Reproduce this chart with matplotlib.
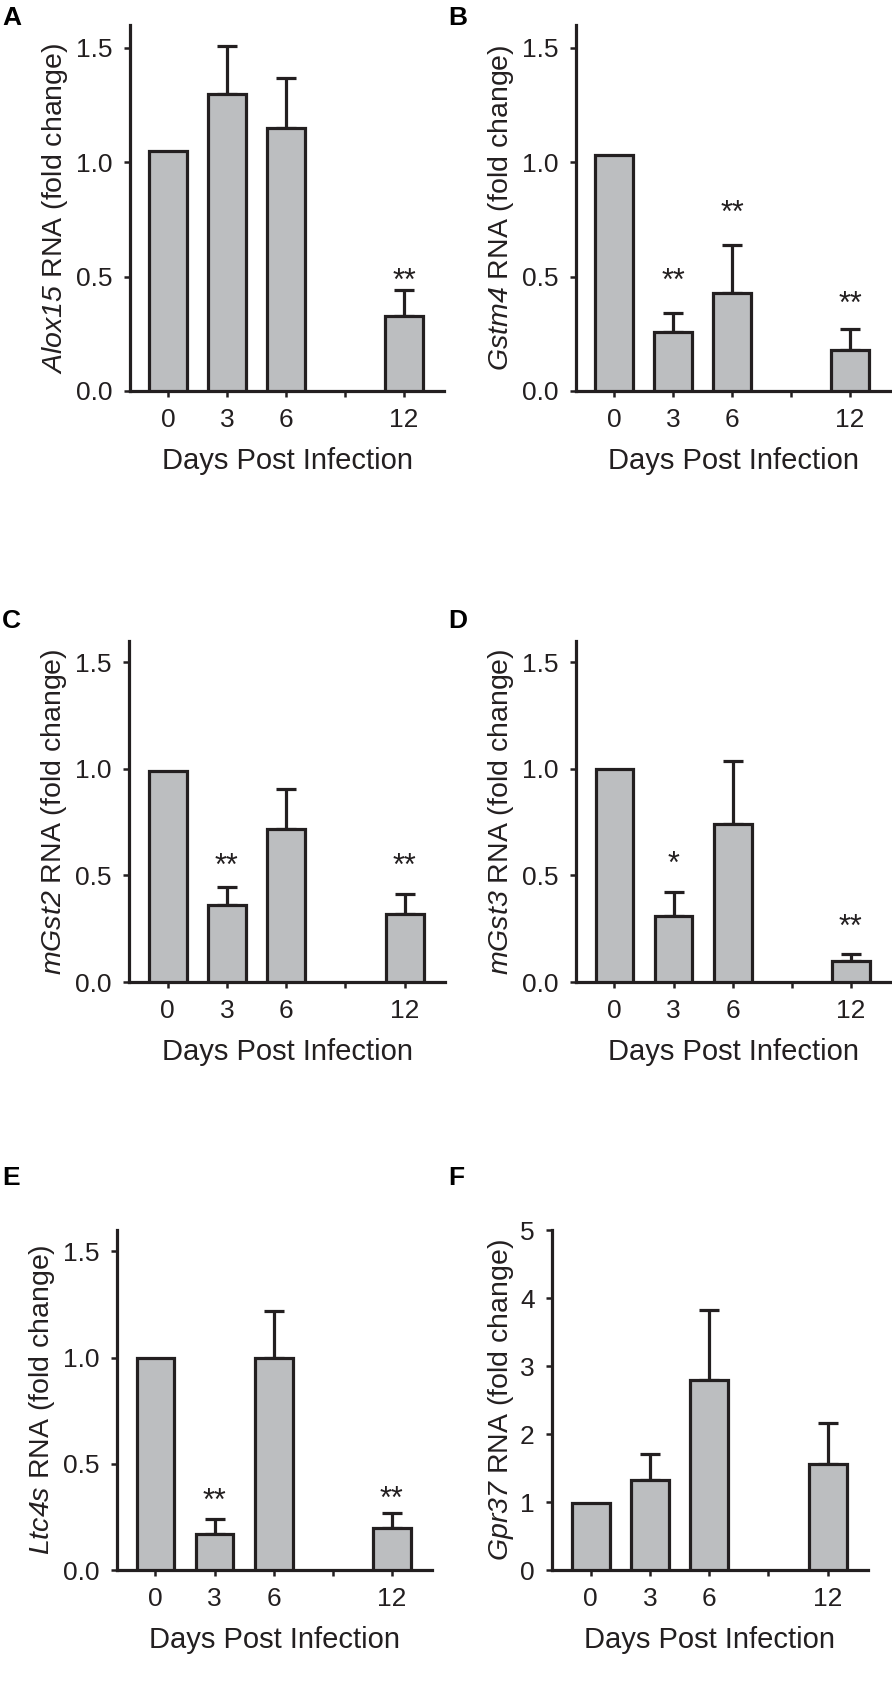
import matplotlib
matplotlib.use('Agg')
import matplotlib.pyplot as plt
import numpy as np

plt.rcParams['font.family'] = ['Liberation Sans', 'DejaVu Sans']
plt.rcParams['mathtext.fontset'] = 'custom'
plt.rcParams['mathtext.rm'] = 'Liberation Sans:italic'
plt.rcParams['mathtext.it'] = 'Liberation Sans:italic'

# ---------------- data ----------------
day_labels = ['0', '3', '6', '', '12']
bar_slots = [0, 1, 2, 4]

alox15_mean = [1.05, 1.30, 1.15, 0.33]
alox15_err = [0.0, 0.21, 0.22, 0.11]
alox15_sig = ['', '', '', '**']
alox15_sig_y = [0, 0, 0, 0.52]

gstm4_mean = [1.03, 0.26, 0.43, 0.18]
gstm4_err = [0.0, 0.08, 0.21, 0.09]
gstm4_sig = ['', '**', '**', '**']
gstm4_sig_y = [0, 0.52, 0.82, 0.42]

mgst2_mean = [0.99, 0.36, 0.72, 0.32]
mgst2_err = [0.0, 0.085, 0.185, 0.095]
mgst2_sig = ['', '**', '', '**']
mgst2_sig_y = [0, 0.59, 0, 0.59]

mgst3_mean = [1.00, 0.31, 0.74, 0.10]
mgst3_err = [0.0, 0.11, 0.295, 0.033]
mgst3_sig = ['', '*', '', '**']
mgst3_sig_y = [0, 0.60, 0, 0.30]

ltc4s_mean = [1.00, 0.17, 1.00, 0.20]
ltc4s_err = [0.0, 0.07, 0.22, 0.07]
ltc4s_sig = ['', '**', '', '**']
ltc4s_sig_y = [0, 0.37, 0, 0.38]

gpr37_mean = [0.99, 1.33, 2.79, 1.56]
gpr37_err = [0.0, 0.38, 1.04, 0.60]
gpr37_sig = ['', '', '', '']
gpr37_sig_y = [0, 0, 0, 0]

gene_names = ['Alox15', 'Gstm4', 'mGst2', 'mGst3', 'Ltc4s', 'Gpr37']
panel_letters = ['A', 'B', 'C', 'D', 'E', 'F']
yticks_small = [0.0, 0.5, 1.0, 1.5]
yticks_big = [0, 1, 2, 3, 4, 5]

panels = [
    (alox15_mean, alox15_err, alox15_sig, alox15_sig_y),
    (gstm4_mean, gstm4_err, gstm4_sig, gstm4_sig_y),
    (mgst2_mean, mgst2_err, mgst2_sig, mgst2_sig_y),
    (mgst3_mean, mgst3_err, mgst3_sig, mgst3_sig_y),
    (ltc4s_mean, ltc4s_err, ltc4s_sig, ltc4s_sig_y),
    (gpr37_mean, gpr37_err, gpr37_sig, gpr37_sig_y),
]

# ---------------- layout ----------------
W, H = 892, 1693
fig = plt.figure(figsize=(W / 100, H / 100), dpi=100)

# (left, right, top, bottom) in pixels from top-left
rects = [
    (130, 444, 25, 391),
    (576, 890, 25, 391),
    (129, 445, 641, 982),
    (576, 891, 641, 982),
    (117, 432, 1230, 1570),
    (552, 868, 1230, 1570),
]
letter_pos = [(2, 25), (448, 25), (2, 628), (448, 628), (2, 1185), (448, 1185)]

ink = '#231F20'
face = '#BCBEC0'
lw = 2.3
fs_tick = 19
fs_label = 20.5
fs_xlabel = 21

for i, (mean, err, sig, sig_y) in enumerate(panels):
    l, r, t, b = rects[i]
    ax = fig.add_axes([l / W, 1 - b / H, (r - l) / W, (b - t) / H])
    ax.bar(bar_slots, mean, width=0.64, color=face, edgecolor=ink,
           linewidth=lw, zorder=3)
    ex = [p for p, e in zip(bar_slots, err) if e > 0]
    ey = [m for m, e in zip(mean, err) if e > 0]
    ee = [e for e in err if e > 0]
    ax.errorbar(ex, ey, yerr=[np.zeros(len(ee)), ee], fmt='none',
                ecolor=ink, elinewidth=lw, capsize=7.5, capthick=lw, zorder=2)
    for p, s, sy in zip(bar_slots, sig, sig_y):
        if s:
            ax.annotate(s, (p, sy), xytext=(0, -0.60 * 22), textcoords='offset points',
                        ha='center', va='baseline', fontsize=22, color=ink)
    ax.set_xlim(-0.65, 4.68)
    ax.set_xticks(range(len(day_labels)))
    ax.set_xticklabels(day_labels)
    if i == 5:
        ax.set_ylim(0, 5)
        ax.set_yticks(yticks_big)
        ax.set_yticklabels([str(v) for v in yticks_big])
    else:
        ax.set_ylim(0, 1.6)
        ax.set_yticks(yticks_small)
        ax.set_yticklabels(['%.1f' % v for v in yticks_small])
    for sp in ['top', 'right']:
        ax.spines[sp].set_visible(False)
    for sp in ['left', 'bottom']:
        ax.spines[sp].set_linewidth(lw)
        ax.spines[sp].set_color(ink)
    ax.tick_params(axis='both', direction='out', length=4.5, width=1.8,
                   colors=ink, labelsize=fs_tick)
    ax.tick_params(axis='y', pad=8)
    ax.tick_params(axis='x', pad=8)
    ax.set_ylabel(r'$%s$ RNA (fold change)' % gene_names[i],
                  fontsize=fs_label, color=ink)
    ax.yaxis.label.set_verticalalignment('center')
    off = 51 if i == 5 else 75
    ax.yaxis.set_label_coords(-off / (r - l), 0.5)
    ax.set_xlabel('Days Post Infection', fontsize=fs_xlabel, color=ink)
    ax.xaxis.label.set_verticalalignment('center')
    ax.xaxis.set_label_coords(0.5, -70 / (b - t))
    lx, ly = letter_pos[i]
    fig.text(lx / W, 1 - ly / H, panel_letters[i], fontsize=19,
             fontweight='bold', color='black', ha='left', va='baseline')

fig.savefig('out.png', dpi=100)
